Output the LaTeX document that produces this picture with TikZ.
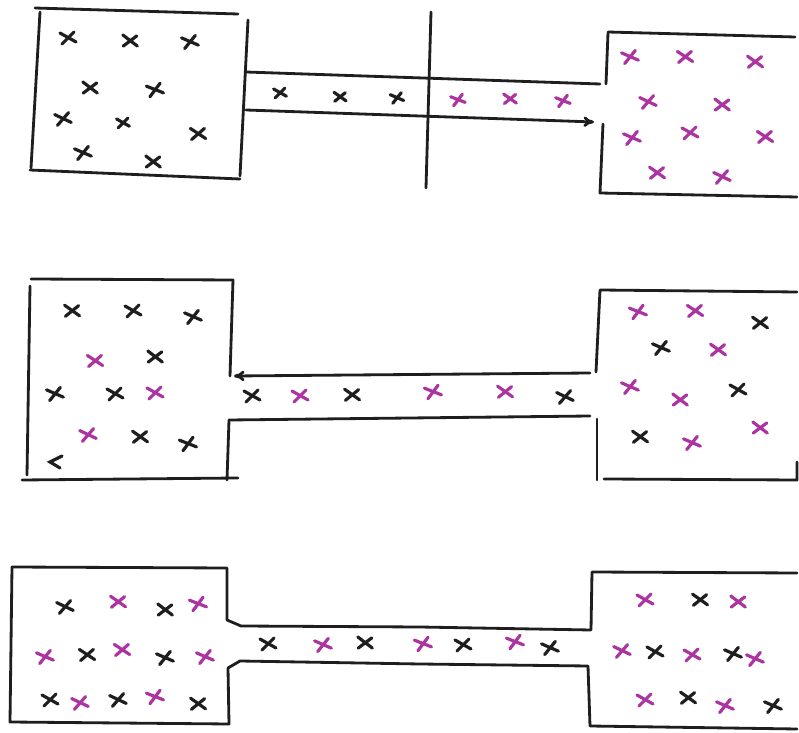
\documentclass[tikz,border=0pt]{standalone}
\usepackage{xcolor}
\usetikzlibrary{arrows.meta}
\definecolor{inkblack}{RGB}{30,30,30}
\definecolor{inkpink}{RGB}{172,52,160}
\tikzset{
  wall/.style={draw=inkblack,line width=1.6pt,line cap=round,line join=round},
  xm/.style={line width=1.8pt,line cap=round},
  cross/.pic={\draw[xm] (-8,-5) -- (8,4) (-6,6) -- (6,-6);}
}

\begin{document}
\begin{tikzpicture}[x=0.02cm,y=-0.02cm,>={To[length=6pt,width=6pt]}]
\useasboundingbox[fill=white] (0,0) rectangle (799,733);

% row 1: membrane in the tube
\draw[wall] (35,8) -- (238,14);
\draw[wall] (40,12) -- (31,168);
\draw[wall] (30,170) -- (240,179);
\draw[wall] (248,20) -- (240,176);
\draw[wall] (246,72) -- (600,84);
\draw[wall,->] (246,110) -- (594,122);
\draw[wall] (431,12) -- (426,188);
\draw[wall] (608,32) -- (795,37);
\draw[wall] (608,33) -- (606,84);
\draw[wall] (603,124) -- (600,193) -- (797,197);
\foreach \px/\py/\a in {68/38/0,130/41/-8,190/42/6,90/88/-8,155/90/8,63/119/4,198/134/-4,83/153/6,153/162/-8}
  \pic[inkblack,rotate=\a] at (\px,\py) {cross};
\foreach \px/\py/\a in {123/123/0,280/93/0,340/97/-6,397/98/6}
  \pic[inkblack,rotate=\a,scale=0.8] at (\px,\py) {cross};
\foreach \px/\py/\a in {458/100/8,510/99/-6,563/101/8}
  \pic[inkpink,rotate=\a,scale=0.85] at (\px,\py) {cross};
\foreach \px/\py/\a in {630/57/6,685/57/-4,755/62/-6,648/102/4,722/105/-8,632/138/6,690/133/0,765/137/-4,657/173/-6,722/177/4}
  \pic[inkpink,rotate=\a] at (\px,\py) {cross};

% row 2: open tube
\draw[wall] (31,279) -- (233,280) -- (230,376);
\draw[wall] (30,286) -- (27,475);
\draw[wall] (22,480) -- (238,478);
\draw[wall,<-] (234,376) -- (590,373);
\draw[wall] (229,420) -- (227,480);
\draw[wall] (229,420) -- (590,416);
\draw[wall] (596,372) -- (600,290) -- (797,292);
\draw[wall] (597,419) -- (597,480);
\draw[wall] (604,479) -- (797,480) -- (797,462);
\foreach \px/\py/\a in {72/311/-6,133/311/0,193/317/6,155/357/-8,55/394/6,115/394/0,140/437/-6,188/444/8,252/396/0,352/395/-6,565/397/4,760/323/-6,661/348/6,738/390/0,640/437/-6}
  \pic[inkblack,rotate=\a] at (\px,\py) {cross};
\draw[xm,inkblack] (62,456) -- (50,462) -- (60,468);
\foreach \px/\py/\a in {95/361/-4,155/393/0,88/435/4,300/396/0,433/392/8,505/392/-6,638/312/8,695/311/-4,718/350/-6,630/387/6,680/400/-8,692/443/6,760/428/-8}
  \pic[inkpink,rotate=\a] at (\px,\py) {cross};

% row 3: mixed
\draw[wall] (12,567) -- (227,568) -- (227,620) -- (241,626) -- (420,627) -- (591,630) -- (592,572) -- (797,573);
\draw[wall] (12,567) -- (10,722) -- (229,724) -- (228,668) -- (240,661) -- (420,664) -- (588,666) -- (590,726) -- (797,729);
\foreach \px/\py/\a in {65/607/4,165/610/-8,87/655/-4,165/658/6,50/700/0,118/700/4,198/704/-6,268/644/0,365/643/-8,463/645/0,550/648/6,700/600/-6,655/652/0,733/654/6,688/698/-6,773/706/6}
  \pic[inkblack,rotate=\a] at (\px,\py) {cross};
\foreach \px/\py/\a in {118/602/-6,198/604/8,45/657/6,122/650/-4,205/657/6,80/703/4,155/697/8,323/645/6,423/644/8,515/642/8,645/600/0,738/602/-8,622/651/4,692/655/0,755/659/6,645/700/0,725/706/6}
  \pic[inkpink,rotate=\a] at (\px,\py) {cross};
\end{tikzpicture}
\end{document}
